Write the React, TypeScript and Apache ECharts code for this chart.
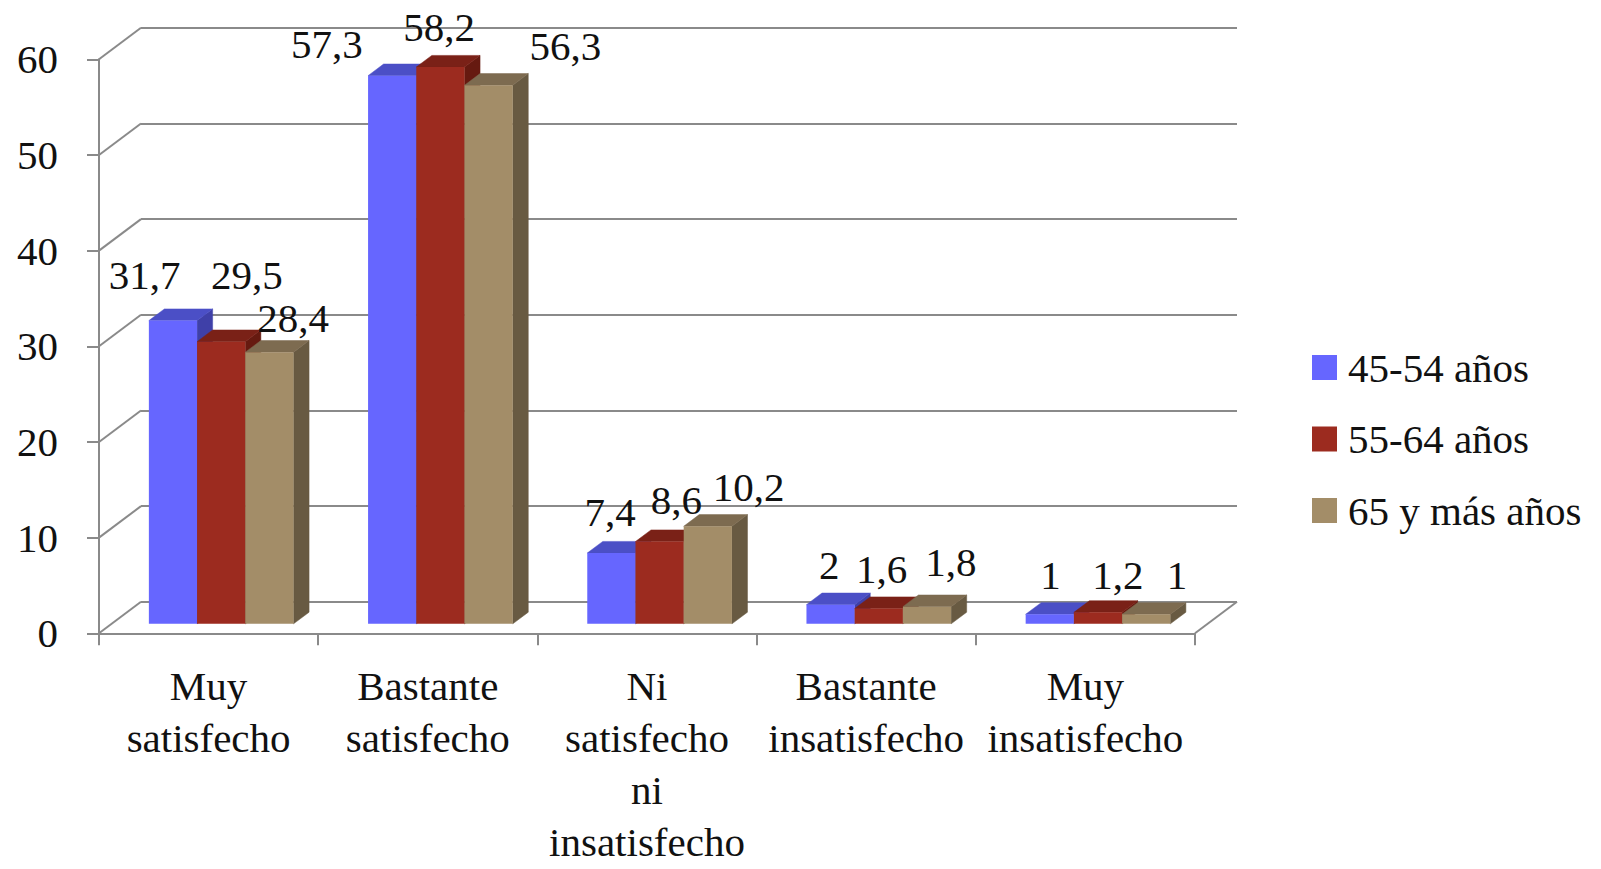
import React, { useEffect, useRef } from 'react';
import * as echarts from 'echarts';

// ---- data ----
const categories = [
  'Muy\nsatisfecho',
  'Bastante\nsatisfecho',
  'Ni\nsatisfecho\nni\ninsatisfecho',
  'Bastante\ninsatisfecho',
  'Muy\ninsatisfecho',
];
const seriesNames = ['45-54 años', '55-64 años', '65 y más años'];
const values4554 = [31.7, 57.3, 7.4, 2, 1];
const values5564 = [29.5, 58.2, 8.6, 1.6, 1.2];
const values65 = [28.4, 56.3, 10.2, 1.8, 1];
const yTicks = [0, 10, 20, 30, 40, 50, 60];

// ---- styles ----
const FONT = "'Liberation Serif', 'Times New Roman', serif";
const FS = 41;
const LINE = '#8a8a8a';
const faces = [
  { front: '#6666FF', top: '#4B4FC6', side: '#3F40A8' },
  { front: '#9C2B1F', top: '#7A2117', side: '#661A10' },
  { front: '#A38D68', top: '#7D6B50', side: '#685A42' },
];
const WALL_DX = 42;
const WALL_DY = -31.5;
const BAR_FRONT = 0.3;
const BAR_DEPTH = 0.37;
const GROUP = 0.66;
// label nudges (dx, dy) per series per category
const labelNudge = [
  [[-36, -6], [-73, 8], [-9, -1], [-9, 0], [-7, 0]],
  [[18, -27], [-9, 0], [9, -2], [-5, 0], [12, 2]],
  [[16, 5], [69, 0], [33, 0], [16, -5], [23, 0]],
];

const allValues = [values4554, values5564, values65];

function barGeom(api: any, s: number, ci: number, v: number) {
  const c = api.coord([ci, v]);
  const base = api.coord([ci, 0]);
  const band = api.size([1, 0])[0];
  const bw = (band * GROUP) / 3;
  const fx = WALL_DX * BAR_FRONT;
  const fy = WALL_DY * BAR_FRONT;
  const dx = WALL_DX * BAR_DEPTH;
  const dy = WALL_DY * BAR_DEPTH;
  const x0 = c[0] + fx + (s - 1.5) * bw;
  const x1 = x0 + bw;
  const yt = c[1] + fy;
  const yb = base[1] + fy;
  return { x0, x1, yt, yb, dx, dy, bw };
}

function makeBarRender(s: number) {
  return (params: any, api: any) => {
    const ci = api.value(0);
    const v = api.value(1);
    const g = barGeom(api, s, ci, v);
    const f = faces[s];
    return {
      type: 'group',
      children: [
        {
          type: 'polygon',
          shape: { points: [[g.x1, g.yt], [g.x1 + g.dx, g.yt + g.dy], [g.x1 + g.dx, g.yb + g.dy], [g.x1, g.yb]] },
          style: { fill: f.side, stroke: f.side, lineWidth: 0.5 },
        },
        {
          type: 'polygon',
          shape: { points: [[g.x0, g.yt], [g.x0 + g.dx, g.yt + g.dy], [g.x1 + g.dx, g.yt + g.dy], [g.x1, g.yt]] },
          style: { fill: f.top, stroke: f.top, lineWidth: 0.5 },
        },
        {
          type: 'rect',
          shape: { x: g.x0, y: g.yt, width: g.bw, height: g.yb - g.yt },
          style: { fill: f.front },
        },
      ],
    };
  };
}

export default function App() {
  const ref = useRef<HTMLDivElement>(null);
  useEffect(() => {
    if (!ref.current) return;
    const chart = echarts.init(ref.current, null, { renderer: 'svg' });

    const labelData: any[] = [];
    allValues.forEach((arr, s) => arr.forEach((v, ci) => labelData.push([ci, v, s])));

    const option: any = {
      animation: false,
      backgroundColor: '#ffffff',
      textStyle: { fontFamily: FONT },
      grid: [
        { left: 99, top: 59.3, width: 1096, height: 574, containLabel: false, outerBoundsMode: 'none' },
        { left: 141, top: 27.8, width: 1096, height: 574, containLabel: false, outerBoundsMode: 'none' },
      ],
      legend: {
        orient: 'vertical',
        left: 1307,
        top: 340.5,
        itemWidth: 25,
        itemHeight: 25,
        itemGap: 27.5,
        icon: 'rect',
        data: seriesNames,
        textStyle: { fontFamily: FONT, fontSize: FS, color: '#111', lineHeight: 44, padding: [0, 0, 0, 6] },
      },
      xAxis: [
        {
          type: 'category',
          gridIndex: 0,
          data: categories,
          boundaryGap: true,
          axisLine: { show: true, lineStyle: { color: LINE, width: 2 } },
          axisTick: { show: true, length: 12, lineStyle: { color: LINE, width: 2 } },
          axisLabel: { interval: 0, margin: 27, fontFamily: FONT, fontSize: FS, color: '#111', lineHeight: 52 },
          splitLine: { show: false },
        },
        {
          type: 'value',
          gridIndex: 1,
          min: 0,
          max: 1,
          show: false,
        },
      ],
      yAxis: [
        {
          type: 'value',
          gridIndex: 0,
          min: 0,
          max: 60,
          interval: 10,
          axisLine: { show: true, lineStyle: { color: LINE, width: 2 } },
          axisTick: { show: true, length: 12, lineStyle: { color: LINE, width: 2 } },
          axisLabel: { margin: 41, fontFamily: FONT, fontSize: FS, color: '#111' },
          splitLine: { show: false },
        },
        {
          type: 'value',
          gridIndex: 1,
          min: 0,
          max: 60,
          interval: 10,
          axisLine: { show: false },
          axisTick: { show: false },
          axisLabel: { show: false },
          splitLine: { show: true, lineStyle: { color: LINE, width: 2 } },
        },
      ],
      series: [
        {
          type: 'custom',
          name: 'walls',
          xAxisIndex: 0,
          yAxisIndex: 0,
          silent: true,
          z: 1,
          data: yTicks.map((t) => [0, t]),
          renderItem: (params: any, api: any) => {
            const t = api.value(1);
            const p = api.coord([0, t]);
            const band = api.size([1, 0])[0];
            const xl = p[0] - band / 2;
            const children: any[] = [
              {
                type: 'line',
                shape: { x1: xl, y1: p[1], x2: xl + WALL_DX, y2: p[1] + WALL_DY },
                style: { stroke: LINE, lineWidth: 2 },
              },
            ];
            if (t === 0) {
              const r = api.coord([categories.length - 1, 0]);
              const xr = r[0] + band / 2;
              children.push({
                type: 'line',
                shape: { x1: xr, y1: r[1], x2: xr + WALL_DX, y2: r[1] + WALL_DY },
                style: { stroke: LINE, lineWidth: 2 },
              });
            }
            return { type: 'group', children };
          },
        },
        ...seriesNames.map((name, s) => ({
          type: 'custom',
          name,
          xAxisIndex: 0,
          yAxisIndex: 0,
          z: 2,
          itemStyle: { color: faces[s].front },
          data: allValues[s].map((v, i) => [i, v]),
          renderItem: makeBarRender(s),
        })),
        {
          type: 'custom',
          name: 'labels',
          xAxisIndex: 0,
          yAxisIndex: 0,
          z: 5,
          silent: true,
          data: labelData,
          renderItem: (params: any, api: any) => {
            const ci = api.value(0);
            const v = api.value(1);
            const s = api.value(2);
            const g = barGeom(api, s, ci, v);
            const n = labelNudge[s][ci];
            const cx = (g.x0 + g.x1) / 2 + g.dx / 2 + n[0];
            const cy = g.yt + g.dy - 28 + n[1];
            return {
              type: 'text',
              x: cx,
              y: cy,
              style: {
                text: String(v).replace('.', ','),
                fill: '#111',
                fontFamily: FONT,
                fontSize: FS,
                align: 'center',
                verticalAlign: 'middle',
              },
            };
          },
        },
      ],
    };
    chart.setOption(option);
    return () => chart.dispose();
  }, []);
  return (
    <div
      ref={ref}
      style={{ position: 'fixed', left: 0, top: 0, width: 1601, height: 869, background: '#fff' }}
    />
  );
}
